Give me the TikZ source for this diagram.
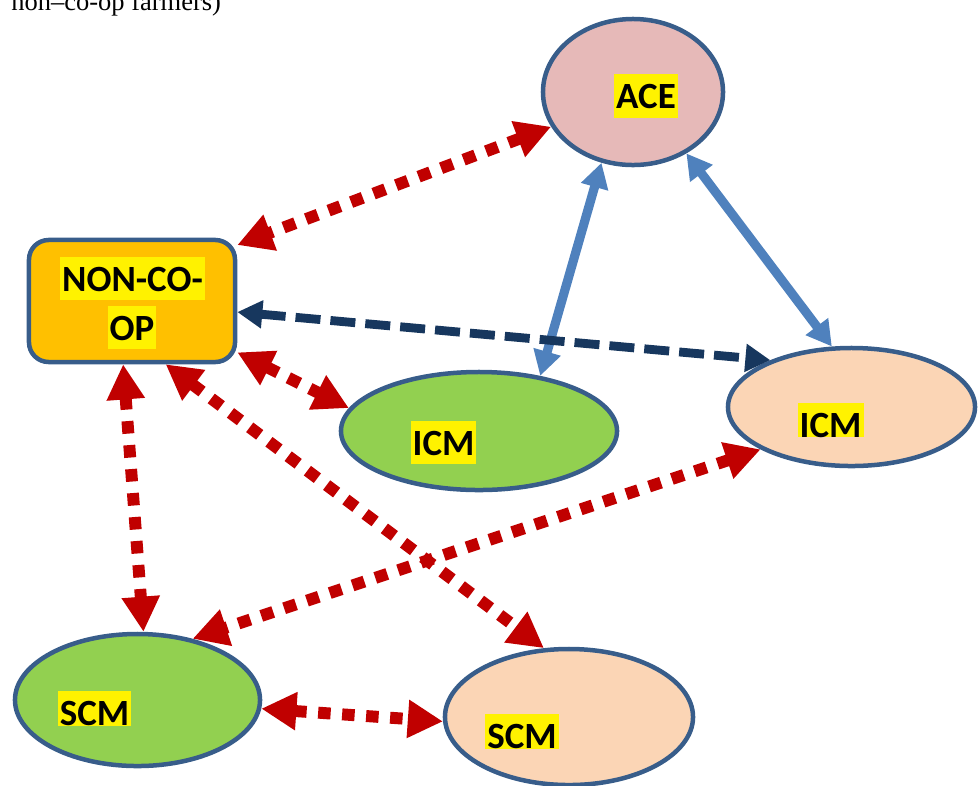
\documentclass[tikz,border=0pt]{standalone}
\usepackage{fontspec}
\setmainfont{Liberation Serif}
\newfontfamily\etiquetafont{Carlito}
\definecolor{ContornoAzul}{RGB}{56,93,138}
\definecolor{RellenoACE}{RGB}{230,185,184}
\definecolor{RellenoNoCoop}{RGB}{255,192,0}
\definecolor{RellenoVerde}{RGB}{146,208,80}
\definecolor{RellenoMelocoton}{RGB}{251,213,181}
\definecolor{FlechaRoja}{RGB}{192,0,0}
\definecolor{FlechaAzul}{RGB}{79,129,189}
\definecolor{FlechaMarino}{RGB}{23,55,94}
\usetikzlibrary{shapes.geometric, arrows.meta}

\begin{document}
\begin{tikzpicture}[x=0.025cm, y=-0.025cm,
    forma/.style={draw=ContornoAzul, line width=3.2pt},
    elipse/.style={forma, ellipse, inner sep=0pt},
    etiqueta/.style={fill=yellow, inner xsep=1.5pt, inner ysep=0pt,
        text height=24.5pt, text depth=6.3pt,
        font=\etiquetafont\bfseries\fontsize{26.3}{30}\selectfont},
    cortada/.style={etiqueta, text depth=0pt},
    roja/.style={draw=FlechaRoja, line width=8.5pt, dash pattern=on 8.9pt off 8.2pt,
        {Triangle[length=25pt, width=25.6pt]}-{Triangle[length=25pt, width=25.6pt]}},
    azul/.style={draw=FlechaAzul, line width=6.5pt,
        {Triangle[length=17.8pt, width=19pt]}-{Triangle[length=17.8pt, width=19pt]}},
    marino/.style={draw=FlechaMarino, line width=6.3pt, dash pattern=on 17.8pt off 7.1pt,
        {Triangle[length=17.8pt, width=19pt]}-{Triangle[length=17.8pt, width=19pt]}}]

    \useasboundingbox (0,0) rectangle (978,785);

    % Texto cortado arriba
    \node[anchor=base west, inner sep=0pt, font=\fontsize{18.85}{22}\selectfont] (titulo) at (11,10) {non–co-op farmers)};

    % Formas
    \node[elipse, fill=RellenoACE, minimum width=4.5cm, minimum height=3.65cm] (ACE) at (633,92) {};
    \node[forma, rectangle, rounded corners=14pt, fill=RellenoNoCoop, minimum width=5.15cm, minimum height=3.05cm] (NON) at (132,301) {};
    \node[elipse, fill=RellenoVerde, minimum width=6.9cm, minimum height=2.95cm] (ICMa) at (479,431) {};
    \node[elipse, fill=RellenoMelocoton, minimum width=6.175cm, minimum height=2.95cm] (ICMb) at (851.5,407) {};
    \node[elipse, fill=RellenoVerde, minimum width=6.125cm, minimum height=3.3cm] (SCMa) at (137.5,700) {};
    \node[elipse, fill=RellenoMelocoton, minimum width=6.2cm, minimum height=3.4cm] (SCMb) at (569,717) {};

    % Etiquetas
    \node[etiqueta] (ACEtexto) at (646,96) {ACE};
    \node[etiqueta] (NONtexto1) at (132.5,278.5) {NON-CO-};
    \node[etiqueta] (NONtexto2) at (132,327.5) {OP};
    \node[etiqueta] (ICMatexto) at (443.5,442.5) {ICM};
    \node[cortada] (ICMbtexto) at (830.5,420) {ICM};
    \node[cortada] (SCMatexto) at (94.5,708.5) {SCM};
    \node[cortada] (SCMbtexto) at (522,731.5) {SCM};

    % Flechas rojas punteadas
    \draw[roja] (ACE.203) -- (NON.28);
    \draw[roja] (NON.334) -- (ICMa.170);
    \draw[roja] (NON.262) -- (SCMa.85);
    \draw[roja] (NON.298) -- (SCMb.110);
    \draw[roja] (ICMb.205) -- (SCMa.48);
    \draw[roja] (SCMa.356) -- (SCMb.182);

    % Flechas azules
    \draw[azul] (ACE.246) -- (ICMa.42);
    \draw[azul] (ACE.311) -- (ICMb.108);

    % Flecha discontinua
    \draw[marino] (NON.354) -- (ICMb.150);
\end{tikzpicture}
\end{document}
